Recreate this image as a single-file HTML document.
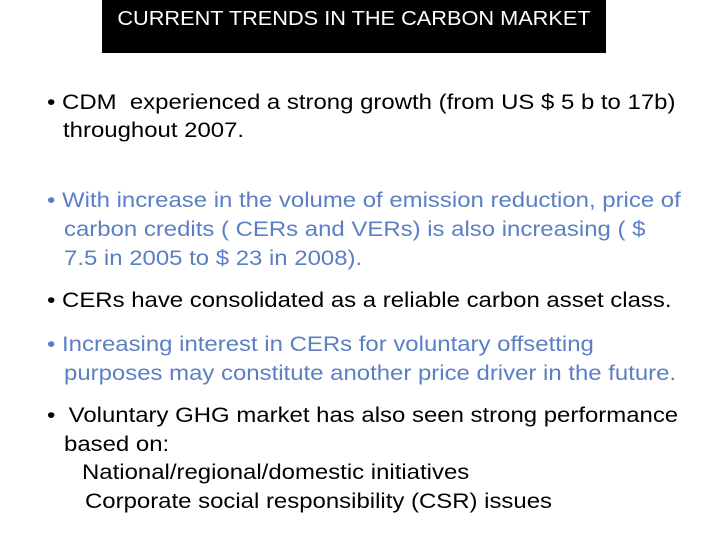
<!DOCTYPE html>
<html><head><meta charset="utf-8"><style>
body{margin:0;background:#fff;}
#slide{position:relative;width:720px;height:540px;overflow:hidden;background:#fff;font-family:"Liberation Sans",sans-serif;}
#title-box{position:absolute;left:102px;top:0;width:504px;height:53px;background:#000;}
#title-box span{position:absolute;left:0;right:0;top:7px;text-align:center;color:#fff;font-size:20.5px;transform:scaleX(1.06);}
.l{position:absolute;font-size:21px;line-height:24px;white-space:nowrap;color:#000;transform:scaleX(1.14);transform-origin:0 0;}
.b{color:#5b7fc4;}
</style></head><body>
<div id="slide">
<div id="title-box"><span>CURRENT TRENDS IN THE CARBON MARKET</span></div>
<div>
<div class="l" style="left:47px;top:91px">• CDM&nbsp; experienced a strong growth (from US $ 5 b to 17b)</div>
<div class="l" style="left:63px;top:119px">throughout 2007.</div>
</div>
<div>
<div class="l b" style="left:47px;top:189px">• With increase in the volume of emission reduction, price of</div>
<div class="l b" style="left:64px;top:218px">carbon credits ( CERs and VERs) is also increasing ( $</div>
<div class="l b" style="left:64px;top:247px">7.5 in 2005 to $ 23 in 2008).</div>
</div>
<div class="l" style="left:47px;top:289px">• CERs have consolidated as a reliable carbon asset class.</div>
<div>
<div class="l b" style="left:47px;top:333px">• Increasing interest in CERs for voluntary offsetting</div>
<div class="l b" style="left:64px;top:362px">purposes may constitute another price driver in the future.</div>
</div>
<div>
<div class="l" style="left:47px;top:404px">•&nbsp; Voluntary GHG market has also seen strong performance</div>
<div class="l" style="left:64px;top:433px">based on:</div>
<div class="l" style="left:82px;top:461px">National/regional/domestic initiatives</div>
<div class="l" style="left:85px;top:490px">Corporate social responsibility (CSR) issues</div>
</div>
</div>
</body></html>
